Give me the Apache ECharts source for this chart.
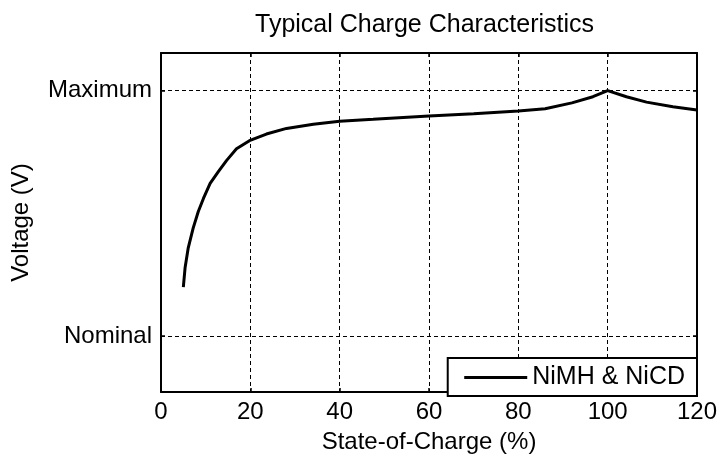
<!DOCTYPE html>
<html>
<head>
<meta charset="utf-8">
<script src="https://cdn.jsdelivr.net/npm/echarts@6/dist/echarts.min.js"></script>
<style>html,body{margin:0;padding:0;background:#fff;}#c{width:722px;height:459px;}</style>
</head>
<body>
<div id="c"></div>
<script>
var titleText = 'Typical Charge Characteristics';
var seriesName = 'NiMH & NiCD';
var xName = 'State-of-Charge (%)';
var yName = 'Voltage (V)';
var socValues = [5, 5.4, 6.1, 7.2, 8.35, 9.5, 11, 12.8, 14.7, 16.9, 19.8, 23.6, 28.1, 34.1, 40, 47.5, 60, 70, 80, 86, 92, 96.7, 100, 104.2, 108.7, 114.6, 120];
var voltValues = [0.2, 0.28, 0.36, 0.44, 0.508, 0.561, 0.622, 0.669, 0.716, 0.763, 0.796, 0.823, 0.846, 0.863, 0.875, 0.883, 0.897, 0.906, 0.917, 0.926, 0.95, 0.975, 1.0, 0.975, 0.953, 0.934, 0.921];
var yTickValues = [0, 1];
var yTickLabels = ['Nominal', 'Maximum'];
var xMin = 0, xMax = 120, xStep = 20;
var yMin = -0.227, yMax = 1.153;

var data = socValues.map(function (x, i) { return [x, voltValues[i]]; });
var font = "'Liberation Sans', Arial, sans-serif";
var dash = { color: '#000', width: 1, type: [4, 3] };
var chart = echarts.init(document.getElementById('c'), null, { renderer: 'canvas' });
chart.setOption({
  animation: false,
  backgroundColor: '#fff',
  title: {
    text: titleText, left: 255, top: 13, padding: 0,
    textStyle: { fontFamily: font, fontSize: 25, fontWeight: 'normal', color: '#000' }
  },
  grid: { left: 161, right: 25, top: 53, bottom: 63, containLabel: false },
  legend: {
    right: 25, bottom: 63,
    data: [seriesName],
    itemWidth: 63, itemHeight: 14,
    padding: [7, 12, 6, 15],
    borderColor: '#000', borderWidth: 2, backgroundColor: '#fff',
    itemStyle: { opacity: 0 },
    lineStyle: { color: '#000', width: 3 },
    textStyle: { fontFamily: font, fontSize: 25, color: '#000' }
  },
  xAxis: [{
    type: 'value', min: xMin, max: xMax, interval: xStep,
    name: xName, nameLocation: 'middle', nameGap: 38,
    nameTextStyle: { fontFamily: font, fontSize: 24, color: '#000' },
    axisLine: { show: true, onZero: false, lineStyle: { color: '#000', width: 2 } },
    axisTick: { show: true, inside: true, length: 4, lineStyle: { color: '#000', width: 1.5 } },
    axisLabel: { fontFamily: font, fontSize: 24, color: '#000', margin: 8 },
    splitLine: { show: true, lineStyle: dash }
  }, {
    type: 'value', min: xMin, max: xMax, interval: xStep, position: 'top',
    axisLine: { show: true, onZero: false, lineStyle: { color: '#000', width: 2 } },
    axisTick: { show: true, inside: true, length: 4, lineStyle: { color: '#000', width: 1.5 } },
    axisLabel: { show: false }, splitLine: { show: false }
  }],
  yAxis: [{
    type: 'value', min: yMin, max: yMax,
    name: yName, nameLocation: 'middle', nameGap: 128,
    nameTextStyle: { fontFamily: font, fontSize: 24, color: '#000' },
    axisLine: { show: true, onZero: false, lineStyle: { color: '#000', width: 2 } },
    axisTick: { show: true, inside: true, length: 4, customValues: yTickValues, lineStyle: { color: '#000', width: 1.5 } },
    axisLabel: {
      fontFamily: font, fontSize: 24, color: '#000', margin: 9, customValues: yTickValues,
      formatter: function (v) { var i = yTickValues.indexOf(v); return i >= 0 ? yTickLabels[i] : ''; }
    },
    splitLine: { show: true, lineStyle: dash }
  }, {
    type: 'value', min: yMin, max: yMax, position: 'right',
    axisLine: { show: true, onZero: false, lineStyle: { color: '#000', width: 2 } },
    axisTick: { show: true, inside: true, length: 4, customValues: yTickValues, lineStyle: { color: '#000', width: 1.5 } },
    axisLabel: { show: false, customValues: yTickValues }, splitLine: { show: false }
  }],
  series: [{
    name: seriesName, type: 'line', data: data,
    xAxisIndex: 0, yAxisIndex: 0,
    symbol: 'none', smooth: false,
    lineStyle: { color: '#000', width: 3 },
    itemStyle: { color: '#000' }
  }]
});
</script>
</body>
</html>
